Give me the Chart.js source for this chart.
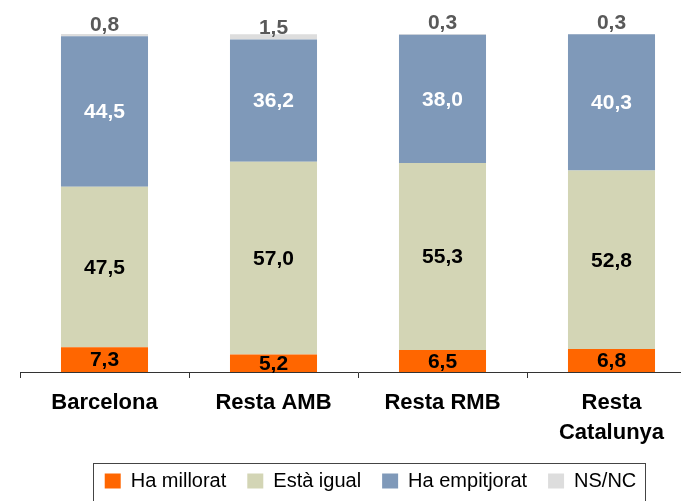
<!DOCTYPE html>
<html>
<head>
<meta charset="utf-8">
<script src="https://cdn.jsdelivr.net/npm/chart.js@4"></script>
<style>
  html, body { margin: 0; padding: 0; background: #fff; overflow: hidden; }
  #wrap { width: 741px; height: 501px; }
</style>
</head>
<body>
<div id="wrap"><canvas id="chart" width="741" height="501"></canvas></div>
<script>
// ====== Dades ======
const categories = ['Barcelona', 'Resta AMB', 'Resta RMB', ['Resta', 'Catalunya']];
const seriesNames = ['Ha millorat', 'Està igual', 'Ha empitjorat', 'NS/NC'];
const haMillorat = [7.3, 5.2, 6.5, 6.8];
const estaIgual = [47.5, 57.0, 55.3, 52.8];
const haEmpitjorat = [44.5, 36.2, 38.0, 40.3];
const nsnc = [0.8, 1.5, 0.3, 0.3];

const FONT = 'Liberation Sans, Arial, sans-serif';
const colors = ['#FF6600', '#D3D5B5', '#7F99B9', '#DDDDDD'];
const labelColors = ['#000000', '#000000', '#FFFFFF', '#595959'];

const fmt = (v) => v.toFixed(1).replace('.', ',');

// etiquetes de valor sobre les barres
const valueLabels = {
  id: 'valueLabels',
  afterDatasetsDraw(chart) {
    const ctx = chart.ctx;
    ctx.save();
    ctx.font = `bold 21px ${FONT}`;
    ctx.textAlign = 'center';
    ctx.textBaseline = 'middle';
    chart.data.datasets.forEach((ds, i) => {
      const meta = chart.getDatasetMeta(i);
      meta.data.forEach((bar, j) => {
        const v = ds.data[j];
        ctx.fillStyle = labelColors[i];
        let y = (bar.y + bar.base) / 2;
        if (i === 3) y = bar.base - 12;
        ctx.fillText(fmt(v), bar.x, y + 1);
      });
    });
    ctx.restore();
  }
};

// marc de la llegenda
const legendBox = {
  id: 'legendBox',
  afterDraw(chart) {
    const boxes = chart.legend.legendHitBoxes;
    if (!boxes || !boxes.length) return;
    const first = boxes[0];
    const last = boxes[boxes.length - 1];
    const ctx = chart.ctx;
    ctx.save();
    ctx.strokeStyle = '#444';
    ctx.lineWidth = 1;
    const left = Math.round(first.left - 12) + 0.5;
    const right = Math.round(last.left + last.width + 9) + 0.5;
    const top = Math.round(first.top - 8) + 0.5;
    ctx.strokeRect(left, top, right - left, 60);
    ctx.restore();
  }
};

const makeSet = (label, data, i) => ({
  label,
  data,
  backgroundColor: colors[i],
  borderWidth: 0,
  barPercentage: 0.515,
  categoryPercentage: 1.0,
});

new Chart(document.getElementById('chart'), {
  type: 'bar',
  data: {
    labels: categories,
    datasets: [
      makeSet(seriesNames[0], haMillorat, 0),
      makeSet(seriesNames[1], estaIgual, 1),
      makeSet(seriesNames[2], haEmpitjorat, 2),
      makeSet(seriesNames[3], nsnc, 3),
    ],
  },
  options: {
    responsive: false,
    animation: false,
    layout: { padding: { top: 34, left: 0, right: 0, bottom: 0 } },
    plugins: {
      tooltip: { enabled: false },
      legend: {
        position: 'bottom',
        labels: {
          color: '#000',
          font: { family: FONT, size: 20 },
          boxWidth: 16,
          boxHeight: 15,
          padding: 21,
        },
      },
    },
    scales: {
      x: {
        stacked: true,
        border: { display: true, color: '#333', width: 1 },
        grid: {
          display: true,
          drawOnChartArea: false,
          drawTicks: true,
          tickLength: 6,
          offset: true,
          color: '#333',
        },
        ticks: {
          color: '#000',
          font: { family: FONT, size: 22, weight: 'bold', lineHeight: 1.36 },
          padding: 10,
          maxRotation: 0,
          autoSkip: false,
        },
        afterFit: (scale) => { scale.height = 78; },
      },
      y: {
        stacked: true,
        min: 0,
        max: 100,
        display: true,
        ticks: { display: false },
        grid: { display: false },
        border: { display: false },
        afterFit: (scale) => { scale.width = 20; },
      },
      y2: {
        type: 'linear',
        position: 'right',
        display: true,
        ticks: { display: false },
        grid: { display: false },
        border: { display: false },
        afterFit: (scale) => { scale.width = 45; },
      },
    },
  },
  plugins: [valueLabels, legendBox],
});
</script>
</body>
</html>
